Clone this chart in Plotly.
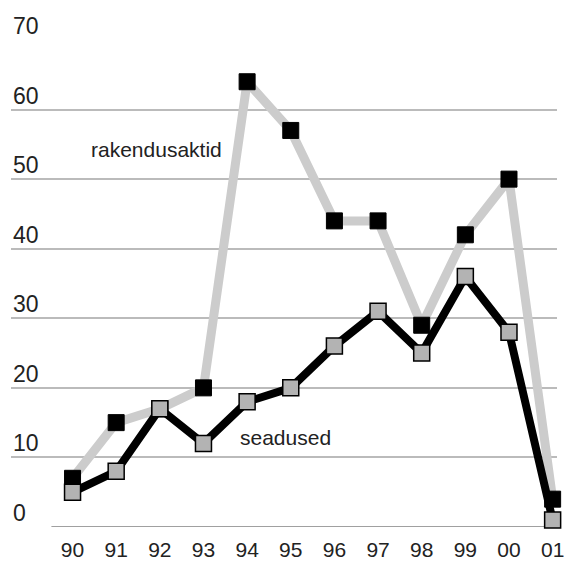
import plotly.graph_objects as go

years = ["90", "91", "92", "93", "94", "95", "96", "97", "98", "99", "00", "01"]
rakendusaktid = [7, 15, 17, 20, 64, 57, 44, 44, 29, 42, 50, 4]
seadused = [5, 8, 17, 12, 18, 20, 26, 31, 25, 36, 28, 1]
y_ticks = [0, 10, 20, 30, 40, 50, 60, 70]

xs = list(range(len(years)))
FONT = "Liberation Sans, Arial, Helvetica, sans-serif"

fig = go.Figure()
fig.add_trace(go.Scatter(
    x=xs, y=rakendusaktid, mode="lines+markers", name="rakendusaktid",
    line=dict(color="#cccccc", width=9),
    marker=dict(symbol="square", size=16, color="#000000",
                line=dict(color="#000000", width=1)),
    cliponaxis=False,
))
fig.add_trace(go.Scatter(
    x=xs, y=seadused, mode="lines+markers", name="seadused",
    line=dict(color="#000000", width=8),
    marker=dict(symbol="square", size=16, color="#b3b3b3",
                line=dict(color="#000000", width=1.5)),
    cliponaxis=False,
))

annotations = []
for v in y_ticks:
    annotations.append(dict(
        xref="paper", x=0, xanchor="left", y=v, yref="y", yanchor="bottom",
        yshift=-1, text=str(v), showarrow=False,
        font=dict(family=FONT, size=23, color="#222222"),
    ))
annotations.append(dict(x=1.914, y=54.3, text="rakendusaktid", showarrow=False,
                        font=dict(family=FONT, size=21, color="#222222")))
annotations.append(dict(x=4.875, y=12.86, text="seadused", showarrow=False,
                        font=dict(family=FONT, size=21, color="#222222")))

fig.update_layout(
    width=564, height=561,
    margin=dict(l=11, r=0, t=40, b=31),
    paper_bgcolor="white", plot_bgcolor="white",
    showlegend=False,
    annotations=annotations,
    shapes=[dict(type="line", xref="paper", yref="y", x0=0.074, x1=1, y0=0, y1=0,
                 line=dict(color="#a0a0a0", width=2), layer="below")],
    xaxis=dict(range=[-1.41, 11.10], tickvals=xs, ticktext=years,
               showgrid=False, zeroline=False, showline=False, ticks="",
               tickfont=dict(family=FONT, size=21, color="#222222"),
               ticklabeloverflow="allow", ticklabelstandoff=8,
               fixedrange=True),
    yaxis=dict(range=[0, 70], tickvals=y_ticks, showticklabels=False,
               showgrid=True, gridcolor="#bbbbbb", gridwidth=2,
               zeroline=False, showline=False, ticks="", fixedrange=True),
)

fig.write_html(
    "out.html",
    config={"displayModeBar": False},
    post_script="document.body.style.margin='0';document.body.style.overflow='hidden';",
)
